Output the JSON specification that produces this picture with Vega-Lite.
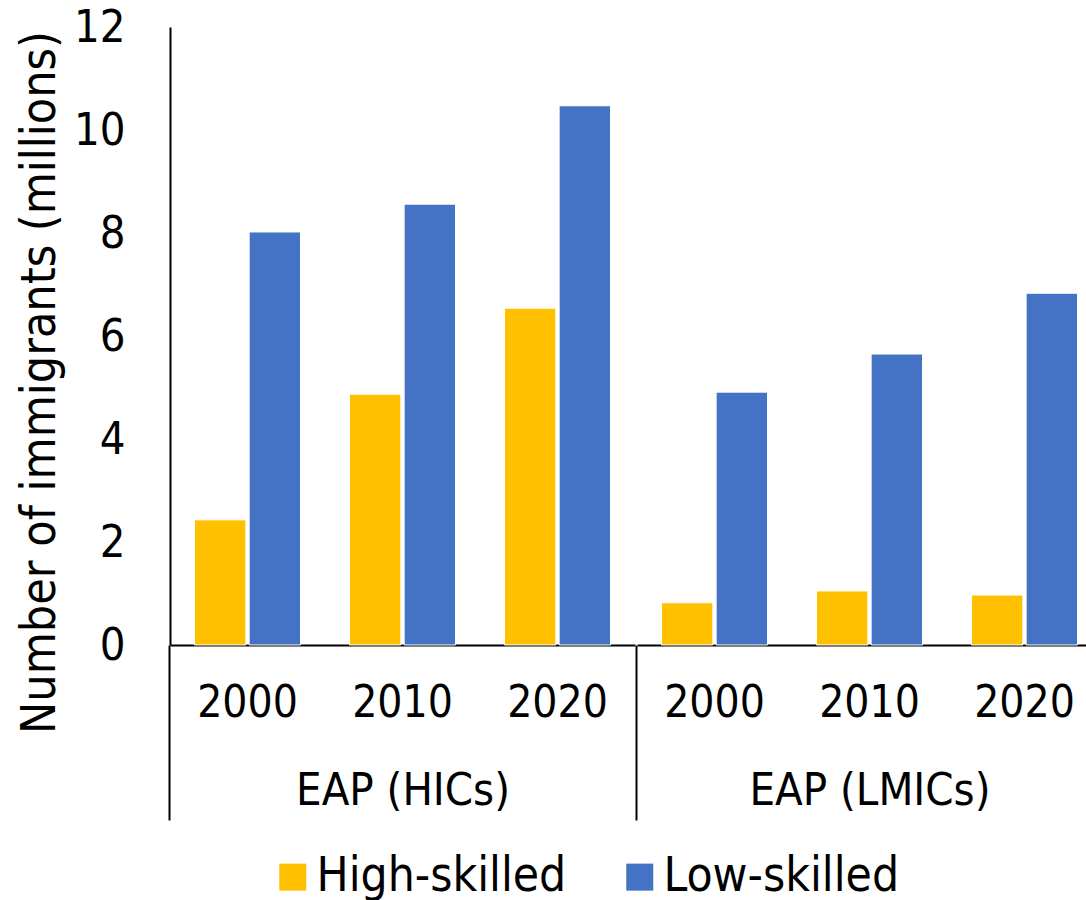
{
  "$schema": "https://vega.github.io/schema/vega-lite/v6.json",
  "padding": {"left": 15, "top": 5, "right": 0, "bottom": 0},
  "background": "white",
  "config": {
    "font": "DejaVu Sans Condensed, Liberation Sans Narrow, DejaVu Sans",
    "view": {"stroke": null},
    "concat": {"spacing": 0},
    "axis": {"labelColor": "black", "titleColor": "black", "domainColor": "black", "grid": false, "titleFontWeight": "normal"}
  },
  "data": {
    "values": [
      {"region": "EAP (HICs)", "year": "2000", "skill": "High-skilled", "value": 2.43},
      {"region": "EAP (HICs)", "year": "2000", "skill": "Low-skilled", "value": 8.02},
      {"region": "EAP (HICs)", "year": "2010", "skill": "High-skilled", "value": 4.87},
      {"region": "EAP (HICs)", "year": "2010", "skill": "Low-skilled", "value": 8.56},
      {"region": "EAP (HICs)", "year": "2020", "skill": "High-skilled", "value": 6.54},
      {"region": "EAP (HICs)", "year": "2020", "skill": "Low-skilled", "value": 10.47},
      {"region": "EAP (LMICs)", "year": "2000", "skill": "High-skilled", "value": 0.82},
      {"region": "EAP (LMICs)", "year": "2000", "skill": "Low-skilled", "value": 4.91},
      {"region": "EAP (LMICs)", "year": "2010", "skill": "High-skilled", "value": 1.05},
      {"region": "EAP (LMICs)", "year": "2010", "skill": "Low-skilled", "value": 5.65},
      {"region": "EAP (LMICs)", "year": "2020", "skill": "High-skilled", "value": 0.97},
      {"region": "EAP (LMICs)", "year": "2020", "skill": "Low-skilled", "value": 6.83}
    ]
  },
  "resolve": {"scale": {"color": "shared", "y": "shared"}, "legend": {"color": "shared"}},
  "hconcat": [
    {
      "width": 465,
      "height": 618,
      "transform": [{"filter": "datum.region == 'EAP (HICs)'"}],
      "mark": {"type": "bar", "stroke": "white", "strokeWidth": 1},
      "encoding": {
        "x": {
          "field": "year", "type": "nominal",
          "scale": {"paddingInner": 0.316, "paddingOuter": 0.158},
          "axis": {
            "title": "EAP (HICs)", "labelAngle": 0, "labelFontSize": 44, "labelPadding": -139,
            "tickSize": 175, "tickWidth": 2, "bandPosition": -0.231,
            "tickColor": {"condition": {"test": "datum.value == '2000'", "value": "black"}, "value": "transparent"},
            "domainWidth": 2, "titleFontSize": 45, "titleY": 145, "titleBaseline": "middle"
          }
        },
        "xOffset": {"field": "skill", "type": "nominal", "sort": ["High-skilled", "Low-skilled"], "scale": {"paddingInner": 0.06}},
        "y": {
          "field": "value", "type": "quantitative",
          "scale": {"domain": [0, 12], "nice": false},
          "axis": {
            "title": "Number of immigrants (millions)", "values": [0, 2, 4, 6, 8, 10, 12],
            "ticks": false, "labelFontSize": 45, "labelPadding": 45, "domainWidth": 2,
            "titleFontSize": 48, "titleX": -130, "titleY": 355, "titleBaseline": "middle"
          }
        },
        "color": {
          "field": "skill", "type": "nominal",
          "scale": {"domain": ["High-skilled", "Low-skilled"], "range": ["#FFC000", "#4472C4"]},
          "legend": {
            "title": null, "orient": "none", "legendX": 99, "legendY": 826, "direction": "horizontal",
            "symbolType": "square", "symbolSize": 729, "symbolStrokeWidth": 0, "labelFontSize": 47.5,
            "labelColor": "black", "labelOffset": 0, "columnPadding": 49, "labelLimit": 500
          }
        }
      }
    },
    {
      "width": 465,
      "height": 618,
      "transform": [{"filter": "datum.region == 'EAP (LMICs)'"}],
      "mark": {"type": "bar", "stroke": "white", "strokeWidth": 1},
      "encoding": {
        "x": {
          "field": "year", "type": "nominal",
          "scale": {"paddingInner": 0.316, "paddingOuter": 0.158},
          "axis": {
            "title": "EAP (LMICs)", "labelAngle": 0, "labelFontSize": 44, "labelPadding": -139,
            "tickSize": 175, "tickWidth": 2, "bandPosition": -0.231,
            "tickColor": {"condition": {"test": "datum.value == '2000'", "value": "black"}, "value": "transparent"},
            "domainWidth": 2, "titleFontSize": 45, "titleY": 145, "titleBaseline": "middle"
          }
        },
        "xOffset": {"field": "skill", "type": "nominal", "sort": ["High-skilled", "Low-skilled"], "scale": {"paddingInner": 0.06}},
        "y": {
          "field": "value", "type": "quantitative",
          "scale": {"domain": [0, 12], "nice": false},
          "axis": null
        },
        "color": {
          "field": "skill", "type": "nominal",
          "scale": {"domain": ["High-skilled", "Low-skilled"], "range": ["#FFC000", "#4472C4"]},
          "legend": {
            "title": null, "orient": "none", "legendX": 99, "legendY": 826, "direction": "horizontal",
            "symbolType": "square", "symbolSize": 729, "symbolStrokeWidth": 0, "labelFontSize": 47.5,
            "labelColor": "black", "labelOffset": 0, "columnPadding": 49, "labelLimit": 500
          }
        }
      }
    }
  ]
}
